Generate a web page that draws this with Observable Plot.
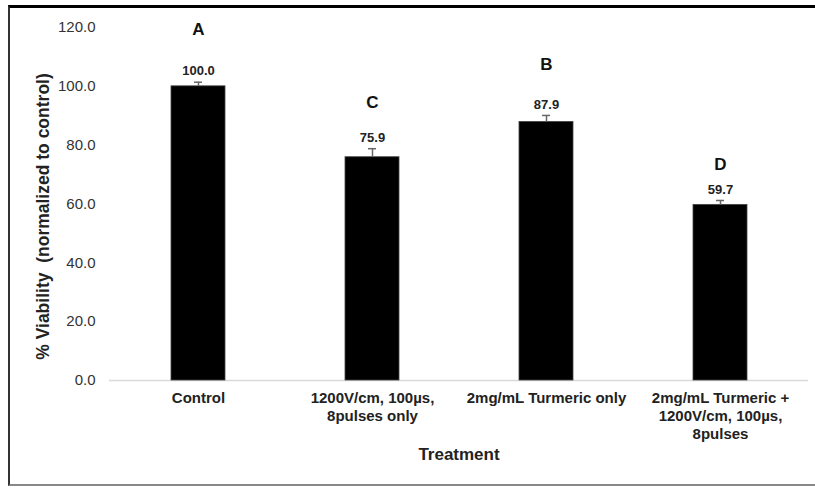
<!DOCTYPE html>
<html>
<head>
<meta charset="utf-8">
<script src="https://cdn.jsdelivr.net/npm/d3@7"></script>
<script src="https://cdn.jsdelivr.net/npm/@observablehq/plot@0.6"></script>
<style>
  html, body { margin: 0; padding: 0; background: #fff; }
  #wrap { position: relative; width: 815px; height: 489px; }
  #border { position: absolute; left: 8px; top: 5px; width: 807px; height: 481px;
    border-top: 3px solid #000; border-left: 2px solid #333; border-bottom: 2px solid #888;
    box-sizing: border-box; pointer-events: none; }
</style>
</head>
<body>
<div id="wrap"><div id="border"></div></div>
<script>
const treatments = [
  "Control",
  "1200V/cm, 100µs,\n8pulses only",
  "2mg/mL Turmeric only",
  "2mg/mL Turmeric +\n1200V/cm, 100µs,\n8pulses"
];
const viability = [100.0, 75.9, 87.9, 59.7];
const errors = [1.4, 2.9, 2.2, 1.5];
const letters = ["A", "C", "B", "D"];
const letterY = [119.4, 94.6, 107.5, 73.5];
const yTicks = [0, 20, 40, 60, 80, 100, 120];

const data = treatments.map((t, i) => ({
  t, v: viability[i], e: errors[i], top: viability[i] + errors[i],
  letter: letters[i], ly: letterY[i]
}));

const font = "'Liberation Sans', Arial, sans-serif";

const chart = Plot.plot({
  width: 815,
  height: 489,
  marginLeft: 109,
  marginRight: 7,
  marginTop: 27,
  marginBottom: 109,
  style: { fontFamily: font, background: "transparent", overflow: "visible" },
  x: { domain: treatments, paddingInner: 0.69, paddingOuter: 0.345, label: null },
  y: { domain: [0, 120], label: null },
  marks: [
    Plot.ruleY([0], { stroke: "#d9d9d9", strokeWidth: 1.5 }),
    Plot.barY(data, { x: "t", y: "v", fill: "#000", stroke: "#444", strokeWidth: 0.8 }),
    Plot.ruleX(data, { x: "t", y1: "v", y2: "top", stroke: "#666", strokeWidth: 1.5 }),
    Plot.tickY(data, { x: "t", y: "top", stroke: "#666", strokeWidth: 1.5, insetLeft: 23, insetRight: 23 }),
    Plot.text(data, { x: "t", y: "top", text: d => d.v.toFixed(1), dy: -11, fontWeight: "bold", fontSize: 13, fill: "#222" }),
    Plot.text(data, { x: "t", y: "ly", text: "letter", fontWeight: "bold", fontSize: 17, fill: "#111" }),
    Plot.axisY({ ticks: yTicks, tickFormat: d => d.toFixed(1), tickSize: 0, tickPadding: 14, fontSize: 15, color: "#333", label: null }),
    Plot.axisX({ tickSize: 0, tickPadding: 10, fontSize: 15, fontWeight: "bold", lineHeight: 1.2, color: "#222", label: null, lineAnchor: "top" }),
    Plot.text(["Treatment"], { frameAnchor: "bottom", dy: 79, fontWeight: "bold", fontSize: 17, fill: "#222" }),
    Plot.text(["% Viability  (normalized to control)"], { frameAnchor: "left", textAnchor: "middle", dx: -66, dy: 12.5, rotate: -90, fontWeight: "bold", fontSize: 17.5, fill: "#222" })
  ]
});
document.getElementById("wrap").prepend(chart);
chart.style.position = "absolute";
chart.style.left = "0";
chart.style.top = "0";
</script>
</body>
</html>
